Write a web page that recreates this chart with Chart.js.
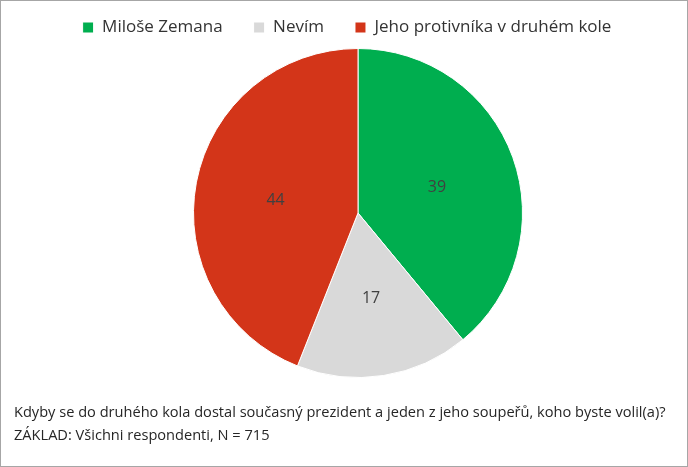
<!DOCTYPE html>
<html>
<head>
<meta charset="utf-8">
<script src="https://cdn.jsdelivr.net/npm/chart.js@4/dist/chart.umd.min.js"></script>
<style>
  html, body { margin: 0; padding: 0; background: #fff; }
  #wrap { position: relative; width: 688px; height: 467px; box-sizing: border-box; border: 1px solid #a6a6a6; overflow: hidden; }
  #c { position: absolute; left: -1px; top: -1px; }
  .note { position: absolute; left: 13px; font-family: "Open Sans", sans-serif; font-size: 14.6px; color: #262626; white-space: nowrap; line-height: 23px; }
</style>
</head>
<body>
<div id="wrap">
  <canvas id="c" width="688" height="467"></canvas>
  <div class="note" id="n1" style="top:399px"></div>
  <div class="note" id="n2" style="top:422px"></div>
</div>
<script>
const categories = ["Miloše Zemana", "Nevím", "Jeho protivníka v druhém kole"];
const values = [39, 17, 44];
const colors = ["#00ae4f", "#d9d9d9", "#d33519"];
const noteLines = [
  "Kdyby se do druhého kola dostal současný prezident a jeden z jeho soupeřů, koho byste volil(a)?",
  "ZÁKLAD: Všichni respondenti, N = 715"
];
document.getElementById('n1').textContent = noteLines[0];
document.getElementById('n2').textContent = noteLines[1];

const legendAdjust = {
  id: 'legendAdjust',
  beforeInit(chart) {
    const lg = chart.legend;
    const origFit = lg.fit;
    lg.fit = function() { origFit.call(this); this.height = 48; };
  },
  afterLayout(chart) {
    const lg = chart.legend;
    lg.top -= 12; lg.bottom -= 12;
    lg.left -= 11; lg.right -= 11;
  }
};

const sliceLabels = {
  id: 'sliceLabels',
  afterDatasetsDraw(chart) {
    const ctx = chart.ctx;
    const meta = chart.getDatasetMeta(0);
    ctx.save();
    ctx.font = '16px "Open Sans", sans-serif';
    ctx.fillStyle = '#404040';
    ctx.textAlign = 'center';
    ctx.textBaseline = 'middle';
    meta.data.forEach((arc, i) => {
      const mid = (arc.startAngle + arc.endAngle) / 2;
      const r = arc.outerRadius * 0.51;
      ctx.fillText(String(values[i]), arc.x + Math.cos(mid) * r, arc.y + Math.sin(mid) * r + 3);
    });
    ctx.restore();
  }
};

new Chart(document.getElementById('c'), {
  type: 'pie',
  data: {
    labels: categories,
    datasets: [{
      data: values,
      backgroundColor: colors,
      borderColor: '#ffffff',
      borderWidth: 1
    }]
  },
  options: {
    responsive: false,
    animation: false,
    layout: { padding: { left: 28, right: 0, top: 0, bottom: 89 } },
    plugins: {
      legend: {
        position: 'top',
        labels: {
          boxWidth: 11,
          boxHeight: 11,
          padding: 31,
          color: '#333333',
          font: { family: '"Open Sans", sans-serif', size: 17 }
        }
      },
      tooltip: { enabled: false }
    }
  },
  plugins: [legendAdjust, sliceLabels]
});
</script>
</body>
</html>
